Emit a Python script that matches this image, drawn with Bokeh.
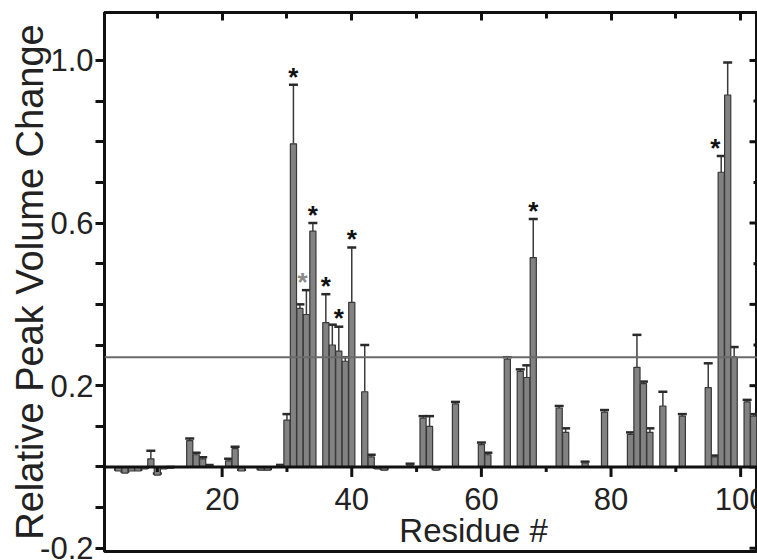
import math
from bokeh.plotting import figure
from bokeh.models import (ColumnDataSource, FixedTicker, Range1d,
                          Span, Label, Whisker, TeeHead)
from bokeh.core.properties import value
from bokeh.embed import file_html
from bokeh.resources import INLINE

# ---- data ----
residues = [4, 5, 6, 7, 8, 9, 10, 11, 12, 15, 16, 17, 18, 21, 22, 23, 26, 27, 29,
            30, 31, 32, 33, 34, 36, 37, 38, 39, 40, 42, 43, 44, 45, 49, 51, 52, 53,
            56, 60, 61, 64, 66, 67, 68, 72, 73, 76, 79, 83, 84, 85, 86, 88, 91,
            95, 96, 97, 98, 99, 101, 102]
values = [-0.010, -0.015, -0.010, -0.010, -0.005, 0.020, -0.020, -0.005, -0.003,
          0.065, 0.030, 0.020, 0.003, 0.015, 0.045, -0.010, -0.008, -0.008, 0.003,
          0.115, 0.795, 0.390, 0.375, 0.580, 0.355, 0.300, 0.285, 0.260, 0.405,
          0.185, 0.025, -0.005, -0.008, 0.005, 0.120, 0.100, -0.008,
          0.155, 0.055, 0.030, 0.265, 0.235, 0.220, 0.515, 0.145, 0.085, 0.010,
          0.135, 0.080, 0.245, 0.205, 0.085, 0.150, 0.125,
          0.195, 0.025, 0.725, 0.915, 0.270, 0.160, 0.125]
errors = [0.004, 0.004, 0.004, 0.003, 0.003, 0.020, 0.004, 0.003, 0.003,
          0.005, 0.005, 0.004, 0.002, 0.005, 0.005, 0.003, 0.003, 0.003, 0.002,
          0.015, 0.145, 0.010, 0.060, 0.020, 0.070, 0.050, 0.060, 0.010, 0.135,
          0.115, 0.005, 0.003, 0.003, 0.003, 0.005, 0.025, 0.003,
          0.005, 0.005, 0.005, 0.005, 0.005, 0.030, 0.095, 0.005, 0.010, 0.003,
          0.005, 0.005, 0.080, 0.005, 0.010, 0.035, 0.005,
          0.060, 0.003, 0.040, 0.080, 0.025, 0.005, 0.005]

star_residues = [31, 33, 34, 36, 38, 40, 68, 97]
threshold = 0.27

x_tick_major = [20, 40, 60, 80, 100]
x_tick_minor = [10, 30, 50, 70, 90]
x_tick_labels = ["20", "40", "60", "80", "100"]
y_tick_major = [-0.2, 0.2, 0.6, 1.0]
y_tick_labels = ["-0.2", "0.2", "0.6", "1.0"]
y_tick_minor = [-0.1, 0.0, 0.1, 0.3, 0.4, 0.5, 0.7, 0.8, 0.9]
y_right_major = [-0.2, 0.0, 0.2, 0.4, 0.6, 0.8, 1.0]
y_right_minor = [-0.1, 0.1, 0.3, 0.5, 0.7, 0.9]

# ---- styles ----
FONT = "Liberation Sans"
BAR_FILL = "#828282"
BAR_LINE = "#383838"
INK = "#111111"
X_START, X_END = 1.85, 102.6
Y_START, Y_END = -0.208, 1.118

tops = [v + e for v, e in zip(values, errors)]
lows = [v - e for v, e in zip(values, errors)]
src = ColumnDataSource(dict(res=residues, val=values, top=tops, low=lows))

p = figure(width=757, height=560, x_range=Range1d(X_START, X_END),
           y_range=Range1d(Y_START, Y_END), output_backend="svg",
           toolbar_location=None, x_axis_location="above",
           min_border_left=104, min_border_top=12, min_border_bottom=9,
           min_border_right=0)
p.grid.visible = False
p.outline_line_color = INK
p.outline_line_width = 3
p.background_fill_color = "white"
p.border_fill_color = "white"

# top axis (inward ticks, no labels)
xa = p.xaxis[0]
xa.ticker = FixedTicker(ticks=x_tick_major, minor_ticks=x_tick_minor)
xa.major_tick_in = 8
xa.major_tick_out = 0
xa.minor_tick_in = 6
xa.minor_tick_out = 0
xa.major_tick_line_width = 3
xa.minor_tick_line_width = 3
xa.major_tick_line_color = INK
xa.minor_tick_line_color = INK
xa.axis_line_width = 3
xa.axis_line_color = INK
xa.major_label_text_font_size = "0px"
xa.major_label_standoff = 0

# left axis
ya = p.yaxis[0]
ya.ticker = FixedTicker(ticks=y_tick_major, minor_ticks=y_tick_minor)
ya.major_label_overrides = {t: s for t, s in zip(y_tick_major, y_tick_labels)}
ya.major_tick_out = 9
ya.major_tick_in = 0
ya.minor_tick_out = 9
ya.minor_tick_in = 0
ya.major_tick_line_width = 3
ya.minor_tick_line_width = 3
ya.major_tick_line_color = INK
ya.minor_tick_line_color = INK
ya.axis_line_width = 3
ya.axis_line_color = INK
ya.major_label_text_font = FONT
ya.major_label_text_font_size = "31px"
ya.major_label_text_color = "#222222"
ya.major_label_standoff = 2
ya.axis_label = "Relative Peak Volume Change"
ya.axis_label_text_font = FONT
ya.axis_label_text_font_size = "38px"
ya.axis_label_text_font_style = "normal"
ya.axis_label_text_color = "#222222"
ya.axis_label_standoff = -14

# right-side inward ticks (the right axis itself lies at the window edge)
p.ray(x=[X_END] * len(y_right_major), y=y_right_major, length=8,
      length_units="screen", angle=math.pi, line_color=INK, line_width=3)
p.ray(x=[X_END] * len(y_right_minor), y=y_right_minor, length=4,
      length_units="screen", angle=math.pi, line_color=INK, line_width=3)

# threshold line
p.add_layout(Span(location=threshold, dimension="width", line_color="#6a6a6a",
                  line_width=2))

# bars
p.vbar(x="res", top="val", bottom=0, width=0.95, source=src,
       fill_color=BAR_FILL, line_color=BAR_LINE, line_width=1.2)

# lower half of error bars, light inside the bars
p.add_layout(Whisker(source=src, base="res", upper="val", lower="low",
                     line_color="#f0f0f0", line_alpha=0.8, line_width=1.2,
                     line_dash="3 2", upper_head=None, lower_head=None))
# upper error bars
p.add_layout(Whisker(source=src, base="res", upper="top", lower="val",
                     line_color="#3a3a3a", line_width=1.5,
                     upper_head=TeeHead(size=9, line_color="#2a2a2a", line_width=2.5),
                     lower_head=None))

# zero line acting as x axis
p.add_layout(Span(location=0, dimension="width", line_color=INK, line_width=3))
p.ray(x=x_tick_major, y=[0] * len(x_tick_major), length=10, length_units="screen",
      angle=-math.pi / 2, line_color=INK, line_width=3)
p.ray(x=x_tick_minor, y=[0] * len(x_tick_minor), length=5, length_units="screen",
      angle=-math.pi / 2, line_color=INK, line_width=3)
p.text(x=x_tick_major, y=[0] * len(x_tick_major), text=x_tick_labels,
       text_font=value(FONT), text_font_size="31px", text_color="#222222",
       text_align="center", text_baseline="top", y_offset=21)
p.add_layout(Label(x=58.8, y=-0.156, text="Residue #", text_font=FONT,
                   text_font_size="33px", text_color="#222222",
                   text_align="center", text_baseline="middle"))

# significance asterisks
idx = {r: i for i, r in enumerate(residues)}
star_x = []
star_y = []
for r in star_residues:
    i = idx[r]
    star_x.append(r)
    star_y.append(tops[i] + 0.035)
star_dx = [0, -0.6, 0, 0, 0, 0, 0, -0.9]
star_col = [INK, "#8a8a8a", INK, INK, INK, INK, INK, INK]
p.text(x=[x + d for x, d in zip(star_x, star_dx)], y=star_y, text=["*"] * len(star_x),
       text_font=value(FONT), text_font_size="26px", text_font_style="bold",
       text_color=star_col, text_align="center", text_baseline="middle", y_offset=6)

open("out.html", "w").write(file_html(p, INLINE))
